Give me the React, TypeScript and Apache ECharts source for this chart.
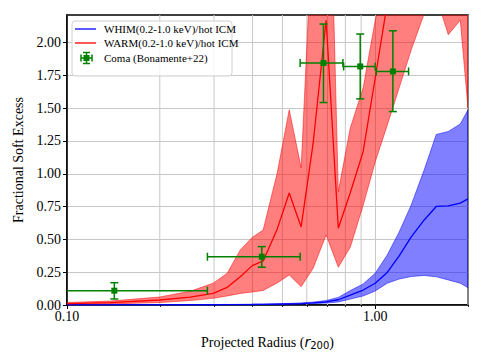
import React, { useEffect, useRef } from 'react';
import * as echarts from 'echarts';

// Projected radius (r200) sample points of the simulated profiles
const radius = [0.1, 0.138, 0.2, 0.251, 0.298, 0.331, 0.365, 0.399, 0.433, 0.481, 0.526, 0.575, 0.629, 0.693, 0.759, 0.83, 0.914, 1.0, 1.094, 1.196, 1.309, 1.442, 1.578, 1.726, 1.888, 2.0];

// WHIM(0.2-1.0 keV)/hot ICM
const whimMid = [0.001, 0.001, 0.001, 0.002, 0.002, 0.003, 0.003, 0.004, 0.005, 0.007, 0.009, 0.011, 0.016, 0.023, 0.04, 0.075, 0.114, 0.166, 0.248, 0.374, 0.519, 0.648, 0.751, 0.755, 0.776, 0.809];
const whimLow = [0.0, 0.0, 0.0005, 0.001, 0.001, 0.002, 0.002, 0.003, 0.003, 0.005, 0.006, 0.008, 0.011, 0.015, 0.023, 0.045, 0.069, 0.107, 0.166, 0.198, 0.217, 0.225, 0.215, 0.191, 0.166, 0.132];
const whimHigh = [0.002, 0.002, 0.002, 0.003, 0.003, 0.004, 0.005, 0.006, 0.007, 0.009, 0.012, 0.016, 0.022, 0.034, 0.058, 0.11, 0.16, 0.242, 0.381, 0.557, 0.763, 1.03, 1.30, 1.322, 1.38, 1.487];

// WARM(0.2-1.0 keV)/hot ICM
const warmMid = [0.011, 0.018, 0.038, 0.06, 0.089, 0.135, 0.216, 0.30, 0.336, 0.58, 0.854, 0.595, 1.233, 2.17, 0.585, 0.855, 1.17, 1.73, 2.3, 2.7, 3.0, 3.2, 3.4, 3.5, 3.6, 3.6];
const warmLow = [0.004, 0.008, 0.019, 0.034, 0.051, 0.069, 0.088, 0.099, 0.111, 0.168, 0.229, 0.14, 0.28, 0.534, 0.288, 0.44, 0.76, 1.09, 1.37, 1.655, 1.945, 2.22, 2.35, 2.06, 2.17, 1.5];
const warmHigh = [0.019, 0.03, 0.061, 0.105, 0.166, 0.242, 0.42, 0.515, 0.572, 1.007, 1.487, 1.045, 3.0, 4.5, 0.864, 1.348, 1.655, 2.17, 2.6, 3.0, 3.3, 3.6, 3.8, 4.0, 4.1, 4.1];

// Coma (Bonamente+22)
const comaR = [0.1424, 0.4286, 0.6794, 0.894, 1.141];
const comaRLow = [0.05, 0.2855, 0.5708, 0.7896, 1.0075];
const comaRHigh = [0.2855, 0.5708, 0.7855, 1.0, 1.283];
const comaExcess = [0.109, 0.368, 1.844, 1.818, 1.78];
const comaExcessLow = [0.046, 0.288, 1.543, 1.571, 1.474];
const comaExcessHigh = [0.17, 0.445, 2.141, 2.065, 2.09];

// Ticks
const yTickValues = [0, 0.25, 0.5, 0.75, 1.0, 1.25, 1.5, 1.75, 2.0];
const xTickValues = [0.1, 1.0];
const xMinorTickValues = [0.2, 0.3, 0.4, 0.5, 0.6, 0.7, 0.8, 0.9, 2.0];

const legendLabels = ['WHIM(0.2-1.0 keV)/hot ICM', 'WARM(0.2-1.0 keV)/hot ICM', 'Coma (Bonamente+22)'];

const SERIF = '"Liberation Serif", "Times New Roman", "DejaVu Serif", serif';
const GREEN = '#008000';

function bandSeries(lo: number[], hi: number[], color: string, z: number) {
  return {
    type: 'custom',
    z,
    clip: true,
    data: radius.map((r, i) => [r, lo[i], hi[i]]),
    encode: { x: 0, y: [1, 2] },
    renderItem: (params: any, api: any) => {
      if (params.dataIndex !== 0) return { type: 'group', children: [] };
      const cs = params.coordSys;
      const upper = radius.map((r, i) => api.coord([r, hi[i]]));
      const lower = radius.map((r, i) => api.coord([r, lo[i]])).reverse();
      return {
        type: 'group',
        clipPath: { type: 'rect', shape: { x: cs.x, y: cs.y, width: cs.width, height: cs.height } },
        children: [
          {
            type: 'polygon',
            shape: { points: upper.concat(lower) },
            style: { fill: color, stroke: color, lineWidth: 1 },
          },
        ],
      };
    },
  };
}

export default function App() {
  const ref = useRef<HTMLDivElement>(null);

  useEffect(() => {
    if (!ref.current) return;
    const chart = echarts.init(ref.current, undefined, { renderer: 'svg' });

    const pair = (ys: number[]) => radius.map((r, i) => [r, ys[i]]);
    const errData = comaR.map((r, i) => [r, comaExcess[i], comaRLow[i], comaRHigh[i], comaExcessLow[i], comaExcessHigh[i]]);

    const L = 72;
    const T = 21;
    const legendFont = 11;
    const legendGraphics: any[] = [
      { type: 'rect', z: 100, shape: { x: L, y: T, width: 160, height: 55, r: 3 }, style: { fill: 'rgba(255,255,255,0.8)', stroke: '#d0d0d0', lineWidth: 1 } },
      { type: 'line', z: 101, shape: { x1: L + 3, y1: T + 8, x2: L + 24, y2: T + 8 }, style: { stroke: '#0000ff', lineWidth: 1.3 } },
      { type: 'line', z: 101, shape: { x1: L + 3, y1: T + 22, x2: L + 24, y2: T + 22 }, style: { stroke: '#ff0000', lineWidth: 1.3 } },
      { type: 'line', z: 101, shape: { x1: L + 9, y1: T + 37, x2: L + 20, y2: T + 37 }, style: { stroke: GREEN, lineWidth: 1.5 } },
      { type: 'line', z: 101, shape: { x1: L + 14.5, y1: T + 31.5, x2: L + 14.5, y2: T + 42.5 }, style: { stroke: GREEN, lineWidth: 1.5 } },
      { type: 'line', z: 101, shape: { x1: L + 9, y1: T + 33.5, x2: L + 9, y2: T + 40.5 }, style: { stroke: GREEN, lineWidth: 1.5 } },
      { type: 'line', z: 101, shape: { x1: L + 20, y1: T + 33.5, x2: L + 20, y2: T + 40.5 }, style: { stroke: GREEN, lineWidth: 1.5 } },
      { type: 'line', z: 101, shape: { x1: L + 11, y1: T + 31.5, x2: L + 18, y2: T + 31.5 }, style: { stroke: GREEN, lineWidth: 1.5 } },
      { type: 'line', z: 101, shape: { x1: L + 11, y1: T + 42.5, x2: L + 18, y2: T + 42.5 }, style: { stroke: GREEN, lineWidth: 1.5 } },
      { type: 'rect', z: 101, shape: { x: L + 11.5, y: T + 34, width: 6, height: 6 }, style: { fill: GREEN } },
      { type: 'text', z: 101, x: L + 32, y: T + 8, style: { text: legendLabels[0], fontFamily: SERIF, fontSize: legendFont, fill: '#000', verticalAlign: 'middle' } },
      { type: 'text', z: 101, x: L + 32, y: T + 22, style: { text: legendLabels[1], fontFamily: SERIF, fontSize: legendFont, fill: '#000', verticalAlign: 'middle' } },
      { type: 'text', z: 101, x: L + 32, y: T + 37, style: { text: legendLabels[2], fontFamily: SERIF, fontSize: legendFont, fill: '#000', verticalAlign: 'middle' } },
    ];

    const option: any = {
      animation: false,
      backgroundColor: '#ffffff',
      grid: {
        left: 67,
        right: 17,
        top: 15,
        bottom: 58,
        show: true,
        borderColor: '#000',
        borderWidth: 1.5,
        backgroundColor: 'transparent',
      },
      xAxis: [
        {
          type: 'log',
          logBase: 10,
          min: 0.1,
          max: 2.0,
          name: 'Projected Radius ({i|r}{s|200})',
          nameLocation: 'middle',
          nameGap: 29,
          nameTextStyle: {
            fontFamily: SERIF,
            fontSize: 14,
            color: '#000',
            rich: {
              i: { fontFamily: 'DejaVu Sans', fontStyle: 'italic', fontSize: 14, color: '#000' },
              s: { fontFamily: 'DejaVu Sans', fontSize: 10, color: '#000', verticalAlign: 'bottom', padding: [6, 0, 0, 0] },
            },
          },
          axisLine: { show: true, lineStyle: { color: '#000', width: 1.5 } },
          axisTick: { show: true, length: 4, inside: false, customValues: xTickValues, lineStyle: { color: '#000', width: 1 } },
          axisLabel: {
            customValues: xTickValues,
            formatter: (v: number) => v.toFixed(2),
            fontFamily: SERIF,
            fontSize: 14,
            color: '#000',
            margin: 4,
          },
          splitLine: { show: true, lineStyle: { color: '#c8c8c8', width: 1 } },
        },
        {
          type: 'log',
          logBase: 10,
          min: 0.1,
          max: 2.0,
          position: 'bottom',
          offset: 0,
          axisLine: { show: false },
          axisTick: { show: true, length: 2, inside: false, customValues: xMinorTickValues, lineStyle: { color: '#000', width: 0.8 } },
          axisLabel: { show: false },
          splitLine: { show: false },
        },
      ],
      yAxis: {
        type: 'value',
        min: 0,
        max: 2.21,
        name: 'Fractional Soft Excess',
        nameLocation: 'middle',
        nameRotate: 90,
        nameGap: 41,
        nameTextStyle: { fontFamily: SERIF, fontSize: 14, color: '#000' },
        axisLine: { show: true, lineStyle: { color: '#000', width: 1.5 } },
        axisTick: { show: true, length: 4, inside: false, customValues: yTickValues, lineStyle: { color: '#000', width: 1 } },
        axisLabel: {
          customValues: yTickValues,
          formatter: (v: number) => v.toFixed(2),
          fontFamily: SERIF,
          fontSize: 14,
          color: '#000',
          margin: 6,
        },
        splitLine: { show: true, lineStyle: { color: '#c8c8c8', width: 1 } },
      },
      series: [
        {
          type: 'custom',
          z: 1,
          data: xMinorTickValues.map((v) => [v, 0]),
          encode: { x: 0, y: 1 },
          renderItem: (params: any, api: any) => {
            const cs = params.coordSys;
            const px = api.coord([api.value(0), api.value(1)])[0];
            return {
              type: 'line',
              shape: { x1: px, y1: cs.y, x2: px, y2: cs.y + cs.height },
              style: { stroke: '#c8c8c8', lineWidth: 1 },
            };
          },
        },
        bandSeries(whimLow, whimHigh, 'rgba(0,0,255,0.5)', 2),
        bandSeries(warmLow, warmHigh, 'rgba(255,0,0,0.5)', 3),
        {
          name: legendLabels[0],
          type: 'line',
          data: pair(whimMid),
          symbol: 'none',
          z: 4,
          lineStyle: { color: '#0000ff', width: 1.3 },
        },
        {
          name: legendLabels[1],
          type: 'line',
          data: pair(warmMid),
          symbol: 'none',
          z: 4,
          lineStyle: { color: '#ff0000', width: 1.3 },
        },
        {
          name: legendLabels[2],
          type: 'custom',
          z: 5,
          data: errData,
          encode: { x: 0, y: 1 },
          renderItem: (params: any, api: any) => {
            const cs = params.coordSys;
            const left = cs.x;
            const c = api.coord([api.value(0), api.value(1)]);
            const xl = api.coord([api.value(2), api.value(1)])[0];
            const xh = api.coord([api.value(3), api.value(1)])[0];
            const yl = api.coord([api.value(0), api.value(4)])[1];
            const yh = api.coord([api.value(0), api.value(5)])[1];
            const cap = 4;
            const st = { stroke: GREEN, lineWidth: 1.5 };
            const xlC = Math.max(xl, left);
            const children: any[] = [
              { type: 'line', shape: { x1: xlC, y1: c[1], x2: xh, y2: c[1] }, style: st },
              { type: 'line', shape: { x1: c[0], y1: yl, x2: c[0], y2: yh }, style: st },
              { type: 'line', shape: { x1: xh, y1: c[1] - cap, x2: xh, y2: c[1] + cap }, style: st },
              { type: 'line', shape: { x1: c[0] - cap, y1: yl, x2: c[0] + cap, y2: yl }, style: st },
              { type: 'line', shape: { x1: c[0] - cap, y1: yh, x2: c[0] + cap, y2: yh }, style: st },
              { type: 'rect', shape: { x: c[0] - 3, y: c[1] - 3, width: 6, height: 6 }, style: { fill: GREEN } },
            ];
            if (xl >= left) {
              children.push({ type: 'line', shape: { x1: xl, y1: c[1] - cap, x2: xl, y2: c[1] + cap }, style: st });
            }
            return { type: 'group', children };
          },
        },
      ],
      graphic: legendGraphics,
    };

    chart.setOption(option);
    return () => chart.dispose();
  }, []);

  return <div ref={ref} style={{ position: 'fixed', left: 0, top: 0, width: 485, height: 363 }} />;
}
